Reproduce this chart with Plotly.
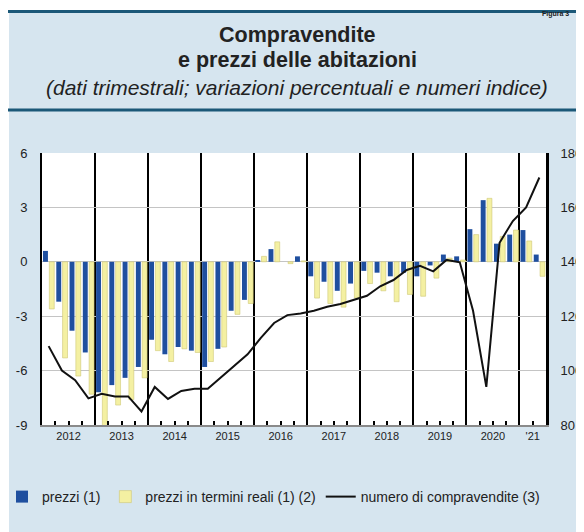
import plotly.graph_objects as go

# ---------------- data ----------------
years = [2012, 2013, 2014, 2015, 2016, 2017, 2018, 2019, 2020, 2021]
quarters_per_year = [4, 4, 4, 4, 4, 4, 4, 4, 4, 2]
year_labels = ["2012", "2013", "2014", "2015", "2016", "2017", "2018", "2019", "2020", "'21"]

prezzi = [0.6, -2.2, -3.8, -5.0,
          -7.2, -6.8, -6.4, -5.8,
          -4.3, -5.1, -4.7, -4.9,
          -5.8, -4.8, -2.7, -2.1,
          0.1, 0.7, 0.0, 0.3,
          -0.8, -1.1, -1.6, -1.2,
          -0.5, -0.6, -0.8, -0.6,
          -0.8, -0.2, 0.4, 0.3,
          1.8, 3.4, 1.0, 1.5,
          1.75, 0.4]

prezzi_reali = [-2.6, -5.3, -6.3, -7.3,
                -9.3, -7.9, -7.6, -6.4,
                -4.9, -5.5, -4.8, -5.0,
                -5.5, -4.7, -2.9, -2.3,
                0.3, 1.1, -0.1, 0.05,
                -2.0, -2.3, -2.5, -2.0,
                -1.2, -1.6, -2.2, -1.8,
                -1.9, -0.9, 0.2, 0.1,
                1.5, 3.5, 1.4, 1.75,
                1.15, -0.8]

compravendite = [109, 100, 96.5, 89.8,
                 91.5, 90.5, 90.5, 85,
                 94, 89.6, 92.5, 93.3,
                 93.3, 97.5, 102, 106,
                 112, 117.5, 120.4, 121,
                 122, 123.5, 124.5, 126,
                 127.5, 131, 133.3, 137,
                 138.5, 136.5, 140.7, 139.8,
                 122, 94, 147, 155,
                 160, 171]

left_ticks = [-9, -6, -3, 0, 3, 6]
left_ticktext = ["-9", "-6", "-3", "0", "3", "6"]
right_ticks = [80, 100, 120, 140, 160, 180]

# ---------------- derived positions ----------------
xq = []
for y, n in zip(years, quarters_per_year):
    for q in range(n):
        xq.append(y + (q + 0.5) / 4)

x_tickvals, x_ticktext = [], []
for y, n, lab in zip(years, quarters_per_year, year_labels):
    if n == 4:
        x_tickvals += [y + 0.25, y + 0.5, y + 0.75]
        x_ticktext += ["", lab, ""]
    else:
        x_tickvals += [y + 0.25]
        x_ticktext += [lab]

BLUE = "#1f4f9f"
YELLOW = "#f4f0a2"
PANEL = "#d6e5ef"
RULE = "#1b5878"
FONT = "Liberation Sans, Arial, sans-serif"

# the page body has an 8px margin; the figure is sized to fill the rest of the window
OFF = 8
W, H = 584 - OFF, 532 - OFF
L, R, T, B = 42 - OFF, 38, 153 - OFF, 107
PW, PH = W - L - R, H - T - B


def px(xp):  # page x -> paper x
    return (xp - OFF - L) / PW


def py(yp):  # page y -> paper y
    return (H - B - (yp - OFF)) / PH


fig = go.Figure()
fig.add_trace(go.Bar(x=xq, y=prezzi, name="prezzi (1)", marker=dict(color=BLUE, line=dict(width=0))))
fig.add_trace(go.Bar(x=xq, y=prezzi_reali, name="prezzi in termini reali (1) (2)",
                     marker=dict(color=YELLOW, line=dict(width=0.6, color="#cfc776"))))
fig.add_trace(go.Scatter(x=xq, y=compravendite, name="numero di compravendite (3)", yaxis="y2",
                         mode="lines", line=dict(color="#111111", width=2)))

fig.update_layout(
    width=W, height=H,
    margin=dict(l=L, r=R, t=T, b=B, autoexpand=False),
    paper_bgcolor=PANEL, plot_bgcolor="white",
    font=dict(family=FONT, color="#222222"),
    barmode="group", bargap=0.05, bargroupgap=0.22,
    showlegend=True,
    legend=dict(orientation="h", x=px(2), xanchor="left", y=py(497), yanchor="middle",
                font=dict(size=14, color="#222222"), bgcolor="rgba(0,0,0,0)",
                itemwidth=30, tracegroupgap=0),
    xaxis=dict(range=[2012, 2021.5], tickvals=x_tickvals, ticktext=x_ticktext,
               ticks="inside", ticklen=4, tickwidth=2, tickcolor="black",
               showgrid=False, zeroline=False,
               showline=True, linecolor="#8a8a8a", linewidth=2,
               tickfont=dict(size=11, color="#222222"),
               minor=dict(dtick=1, tick0=2012, showgrid=True, gridcolor="black", gridwidth=1.6, ticks="")),
    yaxis=dict(range=[-9, 6], tickvals=left_ticks, ticktext=left_ticktext,
               showgrid=True, gridcolor="#c4c4c4", gridwidth=1, zeroline=False,
               showline=True, linecolor="black", linewidth=2, ticks="",
               ticklabelstandoff=10,
               tickfont=dict(size=13, color="#222222")),
    yaxis2=dict(range=[80, 180], tickvals=right_ticks, overlaying="y", side="right",
                showgrid=False, zeroline=False, showline=True, linecolor="black", linewidth=3,
                ticks="", ticklabelstandoff=9,
                tickfont=dict(size=13, color="#222222")),
)

# white surround outside the panel
fig.add_shape(type="rect", xref="paper", yref="paper", x0=px(0), x1=px(9), y0=py(540), y1=py(0),
              fillcolor="white", line=dict(width=0), layer="below")
fig.add_shape(type="rect", xref="paper", yref="paper", x0=px(0), x1=px(590), y0=py(10), y1=py(0),
              fillcolor="white", line=dict(width=0), layer="below")
# rules
for yy in (11.5, 110):
    fig.add_shape(type="line", xref="paper", yref="paper", x0=px(8), x1=px(590), y0=py(yy), y1=py(yy),
                  line=dict(color=RULE, width=3))

# titles
fig.add_annotation(text="<b>Compravendite</b>", xref="paper", yref="paper", x=px(297), y=py(35),
                   xanchor="center", yanchor="middle", showarrow=False,
                   font=dict(size=21.5, color="#222222", family=FONT))
fig.add_annotation(text="<b>e prezzi delle abitazioni</b>", xref="paper", yref="paper", x=px(297), y=py(60),
                   xanchor="center", yanchor="middle", showarrow=False,
                   font=dict(size=21.5, color="#222222", family=FONT))
fig.add_annotation(text="<i>(dati trimestrali; variazioni percentuali e numeri indice)</i>",
                   xref="paper", yref="paper", x=px(297), y=py(88),
                   xanchor="center", yanchor="middle", showarrow=False,
                   font=dict(size=21, color="#222222", family=FONT))
fig.add_annotation(text="<b>Figura 3</b>", xref="paper", yref="paper", x=px(540), y=py(8),
                   xanchor="left", yanchor="top", showarrow=False,
                   font=dict(size=7, color="#222222", family=FONT))

fig.write_html("out.html")
